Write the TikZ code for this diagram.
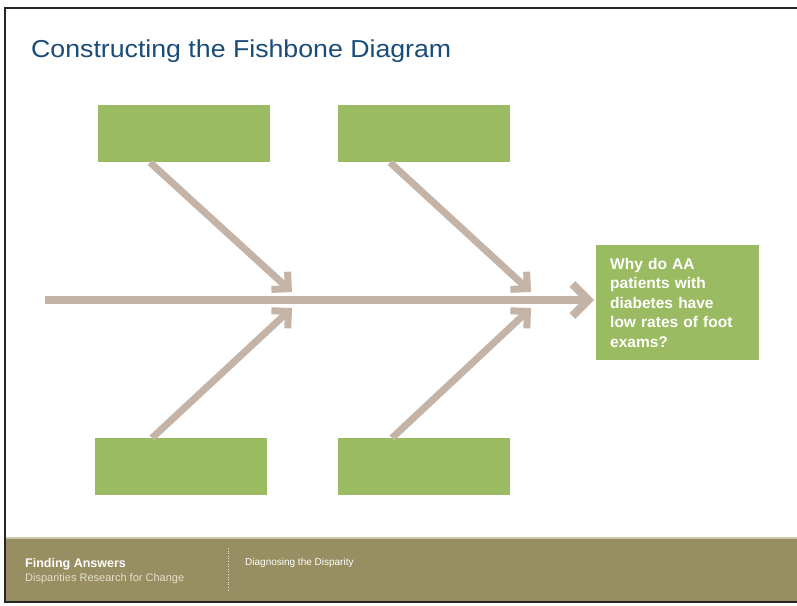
\documentclass[tikz,border=0pt]{standalone}
\usepackage{fontspec}
\setmainfont{Liberation Sans}
\usetikzlibrary{arrows.meta}
\definecolor{boxgreen}{HTML}{9BBB62}
\definecolor{bonetan}{HTML}{C4B4A7}
\definecolor{footolive}{HTML}{978F61}
\definecolor{titleblue}{HTML}{1A4C7A}
\definecolor{footlight}{HTML}{E4E0CC}
\tikzset{
  causebox/.style={fill=boxgreen, draw=none, minimum width=172pt, minimum height=57pt, anchor=north west, inner sep=0pt},
  bone/.style={draw=bonetan, line width=7pt, -{Straight Barb[length=12pt, width=24pt, line width=7pt]}},
  spine/.style={draw=bonetan, line width=8pt, -{Straight Barb[length=16pt, width=32pt, line width=8pt]}},
}
\begin{document}
\begin{tikzpicture}[x=1pt, y=-1pt]
\useasboundingbox (0,0) rectangle (797,605);
\fill[white] (0,0) rectangle (797,605);
% footer band
\fill[footolive] (5,538) rectangle (797,601);
\draw[footlight!70!footolive, line width=1.5pt] (5,538) -- (797,538);
% frame
\draw[black!85, line width=2pt] (797,8) -- (5,8) -- (5,602) -- (797,602);
% title
\node[anchor=base west, text=titleblue, font=\fontsize{24.5}{28}\selectfont, inner sep=0pt] (title) at (31,57) {\scalebox{1.09}[1]{Constructing the Fishbone Diagram}};
% boxes
\node[causebox] (tl) at (98,105) {};
\node[causebox] (tm) at (338,105) {};
\node[causebox] (bl) at (95,438) {};
\node[causebox] (bm) at (338,438) {};
\node[fill=boxgreen, anchor=north west, minimum width=163pt, minimum height=115pt, text width=135pt, inner xsep=14pt, align=left, text=white, font=\bfseries\fontsize{15.5}{19.5}\selectfont] (effect) at (596,245) {Why do AA\\patients with\\diabetes have\\low rates of foot\\exams?};
% spine
\coordinate (tail) at (45,300);
\draw[spine] (tail) -- ([xshift=-2pt]tail -| effect.west);
% bones
\coordinate (h1) at (292,292);
\coordinate (h2) at (531,292);
\coordinate (h3) at (292,308);
\coordinate (h4) at (531,308);
\draw[bone] ([xshift=52pt]tl.south west) -- (h1);
\draw[bone] ([xshift=52pt]tm.south west) -- (h2);
\draw[bone] ([xshift=57pt]bl.north west) -- (h3);
\draw[bone] ([xshift=54pt]bm.north west) -- (h4);
% footer text
\node[anchor=base west, text=white, font=\bfseries\fontsize{12.5}{14}\selectfont, inner sep=0pt] (fa) at (25,567) {Finding Answers};
\node[anchor=base west, text=footlight, font=\fontsize{11}{13}\selectfont, inner sep=0pt] (dr) at (25,581) {Disparities Research for Change};
\draw[footlight, dotted, line width=0.6pt] (228,548) -- (228,592);
\node[anchor=base west, text=white, font=\fontsize{10}{12}\selectfont, inner sep=0pt] (dd) at (245,565) {Diagnosing the Disparity};
\end{tikzpicture}
\end{document}
